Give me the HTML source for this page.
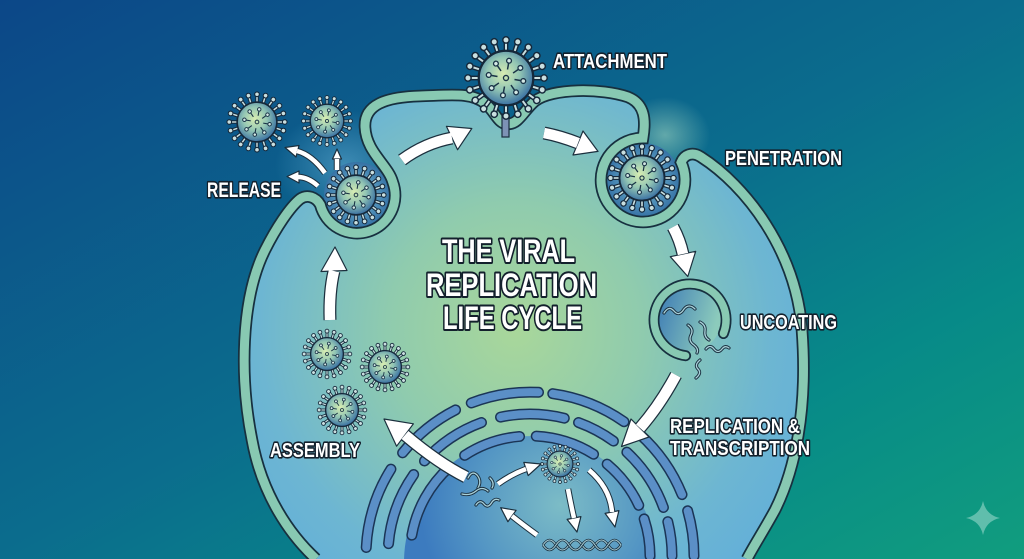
<!DOCTYPE html>
<html>
<head>
<meta charset="utf-8">
<style>
  html, body { margin: 0; padding: 0; width: 1024px; height: 559px; overflow: hidden; background: #0b6a8c; }
  svg { display: block; overflow: hidden; }
  .lbl { font-family: "Liberation Sans Narrow", "Liberation Sans", sans-serif; font-weight: bold; fill: #ffffff; stroke: #13202c; stroke-width: 3.2; stroke-linejoin: round; paint-order: stroke; }
  .ttl { font-family: "Liberation Sans Narrow", "Liberation Sans", sans-serif; font-weight: bold; fill: #ffffff; stroke: #13202c; stroke-width: 4; stroke-linejoin: round; paint-order: stroke; }
  .as { fill: none; stroke: #1b2f3d; stroke-width: 13; }
  .aw { fill: none; stroke: #ffffff; stroke-width: 10.5; }
  .ah { fill: #ffffff; stroke: #1b2f3d; stroke-width: 1.2; stroke-linejoin: round; }
  .ss { fill: none; stroke: #1b2f3d; stroke-width: 6.5; }
  .sw { fill: none; stroke: #ffffff; stroke-width: 4.5; }
  .rd { fill: none; stroke: #1a3040; stroke-width: 3.2; stroke-linecap: round; }
  .rl { fill: none; stroke: #a9d0d8; stroke-width: 1.3; stroke-linecap: round; }
  .erd { fill: none; stroke: #1b3556; stroke-width: 11; stroke-linecap: round; }
  .erf { fill: none; stroke: #5b8fc7; stroke-width: 8; stroke-linecap: round; }
</style>
</head>
<body>
<svg width="1024" height="559" viewBox="0 0 1024 559" xmlns="http://www.w3.org/2000/svg">
  <defs>
    <clipPath id="frame"><rect x="0" y="0" width="1024" height="559"/></clipPath>
    <linearGradient id="bg" x1="0" y1="0" x2="470" y2="861" gradientUnits="userSpaceOnUse">
      <stop offset="0" stop-color="#0c4788"/>
      <stop offset="0.5" stop-color="#0b6d8d"/>
      <stop offset="0.75" stop-color="#078a88"/>
      <stop offset="1" stop-color="#119d7e"/>
    </linearGradient>
    <radialGradient id="cellG" cx="515" cy="330" r="320" gradientUnits="userSpaceOnUse">
      <stop offset="0" stop-color="#a9d79a"/>
      <stop offset="0.4" stop-color="#8fcbae"/>
      <stop offset="0.8" stop-color="#6db6d2"/>
      <stop offset="1" stop-color="#64b0d8"/>
    </radialGradient>
    <radialGradient id="pk" cx="0.5" cy="0.5" r="0.55">
      <stop offset="0" stop-color="#8cc3c4"/>
      <stop offset="0.6" stop-color="#4f8fb8"/>
      <stop offset="1" stop-color="#2f6aa0"/>
    </radialGradient>
    <linearGradient id="uv" x1="0" y1="0" x2="1" y2="0.3">
      <stop offset="0" stop-color="#3d7bb5"/>
      <stop offset="1" stop-color="#8ccbbc"/>
    </linearGradient>
    <radialGradient id="nuc" cx="560" cy="505" r="140" gradientUnits="userSpaceOnUse">
      <stop offset="0" stop-color="#7cbcc6"/>
      <stop offset="0.6" stop-color="#5597c4"/>
      <stop offset="1" stop-color="#3c7bbf"/>
    </radialGradient>
    <radialGradient id="glow" cx="0.5" cy="0.5" r="0.5">
      <stop offset="0" stop-color="#a8dcc2" stop-opacity="0.55"/>
      <stop offset="1" stop-color="#a8dcc2" stop-opacity="0"/>
    </radialGradient>
    <radialGradient id="glow2" cx="0.5" cy="0.5" r="0.5">
      <stop offset="0" stop-color="#5fa8cf" stop-opacity="0.6"/>
      <stop offset="1" stop-color="#5fa8cf" stop-opacity="0"/>
    </radialGradient>
    <radialGradient id="vb" cx="0.45" cy="0.42" r="0.6">
      <stop offset="0" stop-color="#d8edb2"/>
      <stop offset="0.5" stop-color="#93c6b4"/>
      <stop offset="1" stop-color="#356ca2"/>
    </radialGradient>
    <g id="sp">
      <line x1="0" y1="-19" x2="0" y2="-27" stroke="#15283a" stroke-width="3.6"/>
      <line x1="0" y1="-19.5" x2="0" y2="-27" stroke="#c9dfe0" stroke-width="1.5"/>
      <circle cx="0" cy="-28.6" r="2.4" fill="#c9dfe0" stroke="#15283a" stroke-width="1.1"/>
    </g>
    <g id="pin">
      <line x1="0" y1="-6.5" x2="0" y2="-11.5" stroke="#1a3347" stroke-width="1.1"/>
      <circle cx="0" cy="-13.2" r="1.8" fill="#d3e8e4" stroke="#1a3347" stroke-width="1"/>
    </g>
    <g id="virus">
      <use href="#sp" transform="rotate(0)"/>
      <use href="#sp" transform="rotate(18)"/>
      <use href="#sp" transform="rotate(36)"/>
      <use href="#sp" transform="rotate(54)"/>
      <use href="#sp" transform="rotate(72)"/>
      <use href="#sp" transform="rotate(90)"/>
      <use href="#sp" transform="rotate(108)"/>
      <use href="#sp" transform="rotate(126)"/>
      <use href="#sp" transform="rotate(144)"/>
      <use href="#sp" transform="rotate(162)"/>
      <use href="#sp" transform="rotate(180)"/>
      <use href="#sp" transform="rotate(198)"/>
      <use href="#sp" transform="rotate(216)"/>
      <use href="#sp" transform="rotate(234)"/>
      <use href="#sp" transform="rotate(252)"/>
      <use href="#sp" transform="rotate(270)"/>
      <use href="#sp" transform="rotate(288)"/>
      <use href="#sp" transform="rotate(306)"/>
      <use href="#sp" transform="rotate(324)"/>
      <use href="#sp" transform="rotate(342)"/>
      <circle r="20.5" fill="url(#vb)" stroke="#15283a" stroke-width="1.7"/>
      <use href="#pin" transform="rotate(10)"/>
      <use href="#pin" transform="rotate(55)"/>
      <use href="#pin" transform="rotate(100)"/>
      <use href="#pin" transform="rotate(145)"/>
      <use href="#pin" transform="rotate(190)"/>
      <use href="#pin" transform="rotate(235)"/>
      <use href="#pin" transform="rotate(280)"/>
      <use href="#pin" transform="rotate(325)"/>
      <circle r="1.9" fill="none" stroke="#1a3347" stroke-width="1"/>
    </g>
  </defs>

  <g clip-path="url(#frame)">
  <!-- background -->
  <rect x="0" y="0" width="1024" height="559" fill="url(#bg)"/>
  <ellipse cx="345" cy="165" rx="70" ry="55" fill="url(#glow2)"/>
  <ellipse cx="665" cy="135" rx="45" ry="38" fill="url(#glow)"/>

  <!-- cell fill -->
  <path d="M 316 559 C 290 535, 262 495, 252 440 C 240 380, 240 300, 265 250 C 276 228, 290 207, 300 199 C 307 194, 316 197, 320.3 204.8 A 38 38 0 1 0 392.7 182 C 388 165, 366 152, 365 127 C 364 105, 385 97, 420 96 C 452 95, 472 92, 486 104 C 496 113, 498 124, 508 124 C 519 124, 524 110, 535 101 C 552 88, 602 88, 628 97 C 645 104, 646 120, 643 138 A 42 42 0 1 0 681.1 162.3 C 684 155, 692 151, 701 157 C 745 185, 796 250, 802 330 C 808 410, 795 470, 775 510 C 763 532, 753 547, 747 559 Z" fill="url(#cellG)"/>

  <!-- pocket interiors -->
  <circle cx="357" cy="195" r="33" fill="url(#pk)"/>
  <circle cx="643" cy="180" r="37" fill="url(#pk)"/>

  <!-- membrane -->
  <path d="M 316 559 C 290 535, 262 495, 252 440 C 240 380, 240 300, 265 250 C 276 228, 290 207, 300 199 C 307 194, 316 197, 320.3 204.8 A 38 38 0 1 0 392.7 182 C 388 165, 366 152, 365 127 C 364 105, 385 97, 420 96 C 452 95, 472 92, 486 104 C 496 113, 498 124, 508 124 C 519 124, 524 110, 535 101 C 552 88, 602 88, 628 97 C 645 104, 646 120, 643 138 A 42 42 0 1 0 681.1 162.3 C 684 155, 692 151, 701 157 C 745 185, 796 250, 802 330 C 808 410, 795 470, 775 510 C 763 532, 753 547, 747 559" fill="none" stroke="#17303f" stroke-width="12.5"/>
  <path d="M 316 559 C 290 535, 262 495, 252 440 C 240 380, 240 300, 265 250 C 276 228, 290 207, 300 199 C 307 194, 316 197, 320.3 204.8 A 38 38 0 1 0 392.7 182 C 388 165, 366 152, 365 127 C 364 105, 385 97, 420 96 C 452 95, 472 92, 486 104 C 496 113, 498 124, 508 124 C 519 124, 524 110, 535 101 C 552 88, 602 88, 628 97 C 645 104, 646 120, 643 138 A 42 42 0 1 0 681.1 162.3 C 684 155, 692 151, 701 157 C 745 185, 796 250, 802 330 C 808 410, 795 470, 775 510 C 763 532, 753 547, 747 559" fill="none" stroke="#88c9b2" stroke-width="9"/>

  <!-- attachment receptor -->
  <rect x="502" y="114" width="7" height="23" fill="#7d92b6" stroke="#1a2e40" stroke-width="1.2"/>

  <!-- nucleus (upper half only) -->
  <path d="M 404.04 559 A 126 126 0 0 1 655.96 559 Z" fill="url(#nuc)"/>

  <!-- ER arcs (top halves) -->
  <path class="erd" pathLength="180" d="M 410 556 A 120 120 0 0 1 650 556" stroke-dasharray="38 9 28 8 29 8 25 7 18 20" stroke-dashoffset="-10"/>
  <path class="erf" pathLength="180" d="M 410 556 A 120 120 0 0 1 650 556" stroke-dasharray="38 9 28 8 29 8 25 7 18 20" stroke-dashoffset="-10"/>
  <path class="erd" pathLength="180" d="M 388 556 A 142 142 0 0 1 672 556" stroke-dasharray="30 7 28 8 26 6 16 7 27 6 14 5" stroke-dashoffset="-5"/>
  <path class="erf" pathLength="180" d="M 388 556 A 142 142 0 0 1 672 556" stroke-dasharray="30 7 28 8 26 6 16 7 27 6 14 5" stroke-dashoffset="-5"/>
  <path class="erd" pathLength="180" d="M 366 556 A 164 164 0 0 1 694 556" stroke-dasharray="29 7 24 6 24 5 27 7 26 6 16 3" stroke-dashoffset="-3"/>
  <path class="erf" pathLength="180" d="M 366 556 A 164 164 0 0 1 694 556" stroke-dasharray="29 7 24 6 24 5 27 7 26 6 16 3" stroke-dashoffset="-3"/>

  <!-- uncoating vesicle -->
  <circle cx="690" cy="320" r="31" fill="url(#uv)"/>
  <path d="M 685.6 355.7 A 36 36 0 1 1 723.4 333.5" fill="none" stroke="#17303f" stroke-width="11" stroke-linecap="round"/>
  <path d="M 685.6 355.7 A 36 36 0 1 1 723.4 333.5" fill="none" stroke="#88c9b2" stroke-width="7.5" stroke-linecap="round"/>

  <!-- RNA strands (uncoating) -->
  <g>
    <path class="rd" d="M 664 313 q 5 -8 10 -2 q 5 6 10 -2 q 5 -6 11 0"/>
    <path class="rl" d="M 664 313 q 5 -8 10 -2 q 5 6 10 -2 q 5 -6 11 0"/>
    <path class="rd" d="M 688 325 q 6 4 3 10 q -3 6 3 10 q 5 4 3 8"/>
    <path class="rl" d="M 688 325 q 6 4 3 10 q -3 6 3 10 q 5 4 3 8"/>
    <path class="rd" d="M 700 322 q 6 3 5 9 q -1 6 4 9"/>
    <path class="rl" d="M 700 322 q 6 3 5 9 q -1 6 4 9"/>
    <path class="rd" d="M 706 349 q 4 -5 8 0 q 4 5 8 0 q 3 -4 7 -1"/>
    <path class="rl" d="M 706 349 q 4 -5 8 0 q 4 5 8 0 q 3 -4 7 -1"/>
    <path class="rd" d="M 700 360 q -6 5 -2 9 q 4 4 -2 9"/>
    <path class="rl" d="M 700 360 q -6 5 -2 9 q 4 4 -2 9"/>
  </g>

  <!-- RNA strands (nucleus) -->
  <g>
    <path class="rd" d="M 468 478 q 4 -8 9 -3 q 5 6 1 13"/>
    <path class="rl" d="M 468 478 q 4 -8 9 -3 q 5 6 1 13"/>
    <path class="rd" d="M 462 494 q 8 2 14 -3 q 6 -5 12 0"/>
    <path class="rl" d="M 462 494 q 8 2 14 -3 q 6 -5 12 0"/>
    <path class="rd" d="M 476 505 q 4 -6 8 -1 q 4 5 8 -2 q 3 -4 7 -2"/>
    <path class="rl" d="M 476 505 q 4 -6 8 -1 q 4 5 8 -2 q 3 -4 7 -2"/>
    <path class="rd" d="M 490 478 q 5 5 2 10"/>
    <path class="rl" d="M 490 478 q 5 5 2 10"/>
  </g>

  <!-- DNA helix -->
  <path d="M 543 545 q 6.5 -10 13 0 t 13 0 t 13 0 t 13 0 t 13 0 t 13 0" fill="none" stroke="#1a3040" stroke-width="2.6"/>
  <path d="M 543 545 q 6.5 -10 13 0 t 13 0 t 13 0 t 13 0 t 13 0 t 13 0" fill="none" stroke="#a9d0d8" stroke-width="1"/>
  <path d="M 543 545 q 6.5 10 13 0 t 13 0 t 13 0 t 13 0 t 13 0 t 13 0" fill="none" stroke="#1a3040" stroke-width="2.6"/>
  <path d="M 543 545 q 6.5 10 13 0 t 13 0 t 13 0 t 13 0 t 13 0 t 13 0" fill="none" stroke="#a9d0d8" stroke-width="1"/>

  <!-- viruses -->
  <use href="#virus" transform="translate(257,122) scale(0.97)"/>
  <use href="#virus" transform="translate(327,121) scale(0.82)"/>
  <use href="#virus" transform="translate(356,195) scale(0.97)"/>
  <use href="#virus" transform="translate(506,78) scale(1.33)"/>
  <use href="#virus" transform="translate(642,178) scale(1.1)"/>
  <use href="#virus" transform="translate(327,354) scale(0.8)"/>
  <use href="#virus" transform="translate(385,367) scale(0.8)"/>
  <use href="#virus" transform="translate(342,410) scale(0.8)"/>
  <use href="#virus" transform="translate(560,464) scale(0.63)"/>

  <!-- big arrows -->
  <path class="as" d="M 402 160 Q 425 143 452 138"/>
  <polygon class="ah" points="471.8,128.5 446.4,126.3 457.6,149.7"/>
  <path class="aw" d="M 402 160 Q 425 143 452 138"/>
  <path class="as" d="M 544 133 Q 560 136 578 143"/>
  <polygon class="ah" points="598,151.4 583,131 573,155"/>
  <path class="aw" d="M 544 133 Q 560 136 578 143"/>
  <path class="as" d="M 673 227 Q 680 240 683 254"/>
  <polygon class="ah" points="687.8,276.5 695.7,251.3 670.3,256.7"/>
  <path class="aw" d="M 673 227 Q 680 240 683 254"/>
  <path class="as" d="M 676 375 Q 660 405 640 428"/>
  <polygon class="ah" points="621.5,446.5 649,437 631,419"/>
  <path class="aw" d="M 676 375 Q 660 405 640 428"/>
  <path class="as" d="M 466 477 Q 438 463 405 435"/>
  <polygon class="ah" points="384,419 413.4,423.8 396.6,446.2"/>
  <path class="aw" d="M 466 477 Q 438 463 405 435"/>
  <path class="as" d="M 330 320 Q 329 292 334 271"/>
  <polygon class="ah" points="335,247 321,271.5 347,270.5"/>
  <path class="aw" d="M 330 320 Q 329 292 334 271"/>

  <!-- small release arrows -->
  <path class="ss" d="M 325 173 Q 312 155 297 151"/>
  <polygon class="ah" points="285,147.5 299,145.5 296,157"/>
  <path class="sw" d="M 325 173 Q 312 155 297 151"/>
  <path class="ss" d="M 318 186 Q 308 177 298 177"/>
  <polygon class="ah" points="287,176.5 299,171 299,183"/>
  <path class="sw" d="M 318 186 Q 308 177 298 177"/>
  <path class="ss" d="M 337 170 L 337 159"/>
  <polygon class="ah" points="337,149 332.5,159 341.5,159"/>
  <path class="sw" d="M 337 170 L 337 159"/>

  <!-- nucleus arrows -->
  <path class="ss" d="M 498 484 Q 512 474 526 469"/>
  <polygon class="ah" points="541,464 528.2,475.6 523.8,462.4"/>
  <path class="sw" d="M 498 484 Q 512 474 526 469"/>
  <path class="ss" d="M 568 489 Q 571 505 574 518"/>
  <polygon class="ah" points="577,532 580.9,516.6 567.1,519.4"/>
  <path class="sw" d="M 568 489 Q 571 505 574 518"/>
  <path class="ss" d="M 589 470 Q 610 488 612 512"/>
  <polygon class="ah" points="615,527 618.9,510.6 605.1,513.4"/>
  <path class="sw" d="M 589 470 Q 610 488 612 512"/>
  <path class="ss" d="M 537 535 Q 522 524 512 516"/>
  <polygon class="ah" points="500.7,507.7 516.1,510.3 507.9,521.7"/>
  <path class="sw" d="M 537 535 Q 522 524 512 516"/>

  <!-- labels -->
  <text class="lbl" x="553" y="68" font-size="20" textLength="114" lengthAdjust="spacingAndGlyphs">ATTACHMENT</text>
  <text class="lbl" x="207" y="197" font-size="21" textLength="74" lengthAdjust="spacingAndGlyphs">RELEASE</text>
  <text class="lbl" x="725" y="165" font-size="20" textLength="117" lengthAdjust="spacingAndGlyphs">PENETRATION</text>
  <text class="lbl" x="740" y="329" font-size="20" textLength="97" lengthAdjust="spacingAndGlyphs">UNCOATING</text>
  <text class="lbl" x="670" y="433" font-size="20" textLength="130" lengthAdjust="spacingAndGlyphs">REPLICATION &amp;</text>
  <text class="lbl" x="670" y="455" font-size="20" textLength="140" lengthAdjust="spacingAndGlyphs">TRANSCRIPTION</text>
  <text class="lbl" x="270" y="457" font-size="20" textLength="90" lengthAdjust="spacingAndGlyphs">ASSEMBLY</text>

  <text class="ttl" x="442" y="262" font-size="32" textLength="133" lengthAdjust="spacingAndGlyphs">THE VIRAL</text>
  <text class="ttl" x="426" y="296" font-size="32" textLength="171" lengthAdjust="spacingAndGlyphs">REPLICATION</text>
  <text class="ttl" x="443" y="329" font-size="32" textLength="139" lengthAdjust="spacingAndGlyphs">LIFE CYCLE</text>

  <!-- sparkle -->
  <path d="M 983 501 Q 986 515 1000 518 Q 986 521 983 535 Q 980 521 966 518 Q 980 515 983 501 Z" fill="#6fc4b4" fill-opacity="0.85"/>
  </g>
</svg>
</body>
</html>
